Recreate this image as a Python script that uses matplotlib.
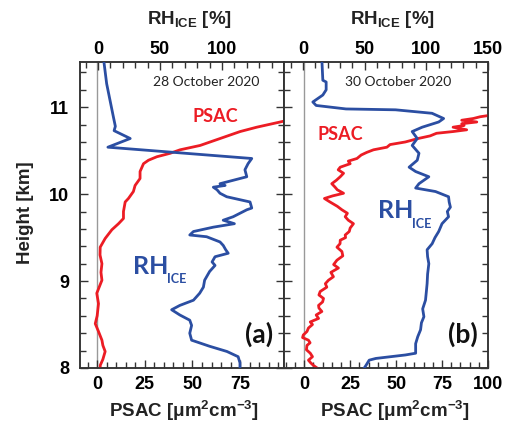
import matplotlib
matplotlib.use('Agg')
import matplotlib.pyplot as plt
from matplotlib.ticker import MultipleLocator, FixedLocator

# ---------------- data ----------------
# Panel (a) 28 October 2020
h_rh_a = [8.00, 8.06, 8.13, 8.19, 8.25, 8.32, 8.40, 8.49, 8.55, 8.61, 8.67, 8.72, 8.78, 8.86,
          8.93, 9.01, 9.06, 9.11, 9.18, 9.22, 9.28, 9.32, 9.36, 9.41, 9.45, 9.51,
          9.53, 9.57, 9.62, 9.66, 9.70, 9.74, 9.82, 9.84, 9.91, 9.97, 10.01, 10.05, 10.08, 10.10,
          10.12, 10.20, 10.28, 10.35, 10.41, 10.54, 10.64, 10.73, 10.78, 10.89, 11.08, 11.27, 11.52]
rh_a = [114.5, 114.5, 113, 104, 90, 75.5, 74, 75.5, 74, 66, 59.4, 66, 77, 82,
        85, 86, 88, 90, 94.4, 92, 94.4, 105, 103, 101, 98.4, 87.6,
        74, 77, 93, 110, 101, 109, 120, 124, 122.6, 103.8, 98.4, 96, 93, 102.5,
        98.4, 120, 118.5, 121, 124, 8, 26, 13, 14, 12.4, 9.7, 7, 4.8]

h_ps_a = [8.00, 8.03, 8.10, 8.19, 8.26, 8.32, 8.42, 8.51, 8.60, 8.74, 8.86, 9.01, 9.10, 9.20,
          9.30, 9.39, 9.49, 9.59, 9.66, 9.72, 9.80, 9.91, 9.95, 10.03, 10.10, 10.18, 10.26,
          10.35, 10.39, 10.43, 10.47, 10.51, 10.56, 10.64, 10.72, 10.77, 10.83, 10.86]
ps_a = [1.6, 1.6, 3, 4.2, 3, 2.5, 0.7, -1, 0, 0.7, -0.2, 2.5, 2, 2.5,
        1.5, 1.6, 4.2, 7.7, 11.2, 13.8, 13.8, 14.7, 16.4, 19, 19.9, 22.5, 22.5,
        24.3, 26.9, 31.3, 38.3, 43.5, 54, 64.5, 75, 83.7, 96, 102]

# Panel (b) 30 October 2020
h_rh_b = [8.00, 8.03, 8.09, 8.11, 8.15, 8.17, 8.28, 8.36, 8.44, 8.52, 8.59, 8.68, 8.78, 8.88,
          8.97, 9.08, 9.20, 9.28, 9.36, 9.43, 9.50, 9.57, 9.66, 9.74, 9.80, 9.85, 9.91, 9.97,
          10.03, 10.07, 10.12, 10.20, 10.26, 10.31, 10.39, 10.47, 10.56, 10.64, 10.72, 10.77,
          10.83, 10.87, 10.93, 10.97, 10.98, 11.02, 11.06, 11.14, 11.20, 11.29, 11.31, 11.52]
rh_b = [49.6, 51, 53.6, 59, 83, 91.3, 91.3, 93, 95.3, 96, 98, 97, 99.3, 100,
        100.6, 101, 102, 101, 100.6, 104.7, 107, 110, 112.7, 118, 117, 119.5, 118.5, 118,
        107.4, 91.3, 94, 102, 91.3, 86, 92.6, 94, 88.5, 92.6, 88.5, 96.6,
        110, 114, 104.6, 75, 34.8, 10.6, 7.9, 16, 18.7, 18.7, 16, 15.3]

h_ps_b = [8.00, 8.03, 8.06, 8.09, 8.13, 8.17, 8.21, 8.26, 8.29, 8.32, 8.35, 8.38, 8.42, 8.46,
          8.50, 8.53, 8.57, 8.61, 8.65, 8.69, 8.72, 8.76, 8.80, 8.84, 8.88, 8.93, 8.97, 9.01,
          9.05, 9.10, 9.15, 9.19, 9.24, 9.29, 9.34, 9.39, 9.43, 9.47, 9.50, 9.53, 9.57, 9.61,
          9.66, 9.70, 9.74, 9.78, 9.82, 9.86, 9.91, 9.95, 9.98, 10.01, 10.05, 10.08, 10.12,
          10.16, 10.20, 10.24, 10.28, 10.31, 10.35, 10.38, 10.41, 10.45, 10.48, 10.51, 10.54,
          10.57, 10.60, 10.64, 10.67, 10.70, 10.72, 10.74, 10.77, 10.79, 10.81, 10.83, 10.85,
          10.87, 10.89, 10.91]
ps_b = [7, 5, 3.5, 2.3, 4.5, 3.3, 1.2, 1.5, 3.2, 2.3, -0.9, -0.5, 1.5, 2.3,
        4.5, 3.3, 7.8, 6.5, 9.6, 8.0, 7.8, 10.0, 10.5, 8.0, 8.7, 12.3, 11.5, 13.2,
        15.9, 14.5, 18.6, 16.0, 17.8, 21.0, 20.5, 17.8, 19.5, 19.6, 22.5, 22.3, 24.5, 25,
        26.8, 24.0, 22.3, 23.5, 20.5, 18.0, 14.0, 11.0, 15.5, 21.4, 18.0, 16.8, 15.0,
        17.5, 19.6, 21.4, 18.5, 19.6, 25, 24.0, 28.7, 31.0, 34.0, 37.7, 45.0,
        46.7, 55.0, 62.0, 68.5, 72.0, 81, 88.4, 81, 87.0, 85.7, 93.9, 85.7,
        92.0, 95.7, 102]

psac_ticks_a = [0, 25, 50, 75]
psac_ticks_b = [0, 25, 50, 75, 100]
rh_ticks_a = [0, 50, 100]
rh_ticks_b = [0, 50, 100, 150]
height_ticks = [8, 9, 10, 11]
dates = ['28 October 2020', '30 October 2020']
panel_tags = ['(a)', '(b)']

# ---------------- style ----------------
W, H = 515, 426
RED = '#ec1c24'
BLUE = '#2b4ea2'
DARK = '#222222'
TICKFONT = dict(family='Liberation Sans', weight='bold', size=13)

fig = plt.figure(figsize=(W / 100, H / 100), dpi=100)


def box(l, t, r, b):
    return [l / W, 1 - b / H, (r - l) / W, (b - t) / H]


def fx(x):
    return x / W


def fy(y):
    return 1 - y / H


def style_axes(ax):
    for s in ax.spines.values():
        s.set_linewidth(1.1)
        s.set_color('#333333')
    ax.tick_params(which='both', direction='in', color='#333333', width=1.0)
    ax.tick_params(which='major', length=6)
    ax.tick_params(which='minor', length=4)


panels = [
    dict(rect=box(80, 62, 284, 368), pxlim=(-9, 98), rxlim=(-14.5, 150),
         pt=psac_ticks_a, rt=rh_ticks_a, h_rh=h_rh_a, rh=rh_a, h_ps=h_ps_a, ps=ps_a),
    dict(rect=box(284, 62, 488, 368), pxlim=(-11, 100), rxlim=(-15.5, 150),
         pt=psac_ticks_b, rt=rh_ticks_b, h_rh=h_rh_b, rh=rh_b, h_ps=h_ps_b, ps=ps_b),
]

for i, p in enumerate(panels):
    ax = fig.add_axes(p['rect'])
    ax.set_xlim(*p['pxlim'])
    ax.set_ylim(8, 11.52)
    ax.axvline(0, color='#999999', lw=1.0, zorder=1)
    ax.plot(p['ps'], p['h_ps'], color=RED, lw=2.0, zorder=3, solid_joinstyle='round')
    ax.xaxis.set_major_locator(FixedLocator(p['pt']))
    ax.xaxis.set_minor_locator(MultipleLocator(5))
    ax.yaxis.set_major_locator(FixedLocator(height_ticks))
    ax.yaxis.set_minor_locator(MultipleLocator(0.2))
    style_axes(ax)
    ax.tick_params(axis='y', which='both', left=True, right=True)
    ax.tick_params(axis='x', which='major', pad=6)
    ax.set_xticklabels([str(t) for t in p['pt']], **TICKFONT)
    if i == 0:
        ax.set_yticklabels([str(t) for t in height_ticks], **TICKFONT)
        ax.tick_params(axis='y', pad=8)
    else:
        ax.set_yticklabels([])

    axt = ax.twiny()
    axt.set_xlim(*p['rxlim'])
    axt.plot(p['rh'], p['h_rh'], color=BLUE, lw=2.0, zorder=3, solid_joinstyle='round')
    axt.xaxis.set_major_locator(FixedLocator(p['rt']))
    axt.xaxis.set_minor_locator(MultipleLocator(10))
    style_axes(axt)
    axt.tick_params(axis='x', which='major', pad=3)
    axt.set_xticklabels([str(t) for t in p['rt']], **TICKFONT)

# axis titles
lab = dict(family='Liberation Sans', weight='bold', size=13.5, color=DARK)
for cx in (189, 392):
    fig.text(fx(cx), fy(20), r'RH$_{\mathregular{ICE}}$ [%]', ha='center', va='center', **lab)
for cx in (184, 395):
    fig.text(fx(cx), fy(411), r'PSAC [μm$^{\mathregular{2}}$cm$^{\mathregular{-3}}$]',
             ha='center', va='center', **lab)
fig.text(fx(26), fy(213), 'Height [km]', rotation=90, ha='center', va='center', **lab)

# in-panel annotations
fig.text(fx(206), fy(82), dates[0], ha='center', va='center', family='Lato', size=10, color=DARK)
fig.text(fx(398), fy(82), dates[1], ha='center', va='center', family='Lato', size=10, color=DARK)

fig.text(fx(215), fy(116), 'PSAC', ha='center', va='center', family='Lato', weight='bold',
         size=13, color=RED)
fig.text(fx(340), fy(134), 'PSAC', ha='center', va='center', family='Lato', weight='bold',
         size=13, color=RED)

for (lx, by, sx, sby) in [(133, 274, 167, 283), (378, 218, 412, 228)]:
    fig.text(fx(lx), fy(by), 'RH', ha='left', va='baseline', family='Lato', weight='bold',
             size=18, color=BLUE)
    fig.text(fx(sx), fy(sby), 'ICE', ha='left', va='baseline', family='Lato', weight='bold',
             size=9, color=BLUE)

fig.text(fx(259), fy(334), panel_tags[0], ha='center', va='center', family='Lato',
         weight='bold', size=19, color='#111111')
fig.text(fx(463), fy(334), panel_tags[1], ha='center', va='center', family='Lato',
         weight='bold', size=19, color='#111111')

fig.savefig('out.png', dpi=100)
